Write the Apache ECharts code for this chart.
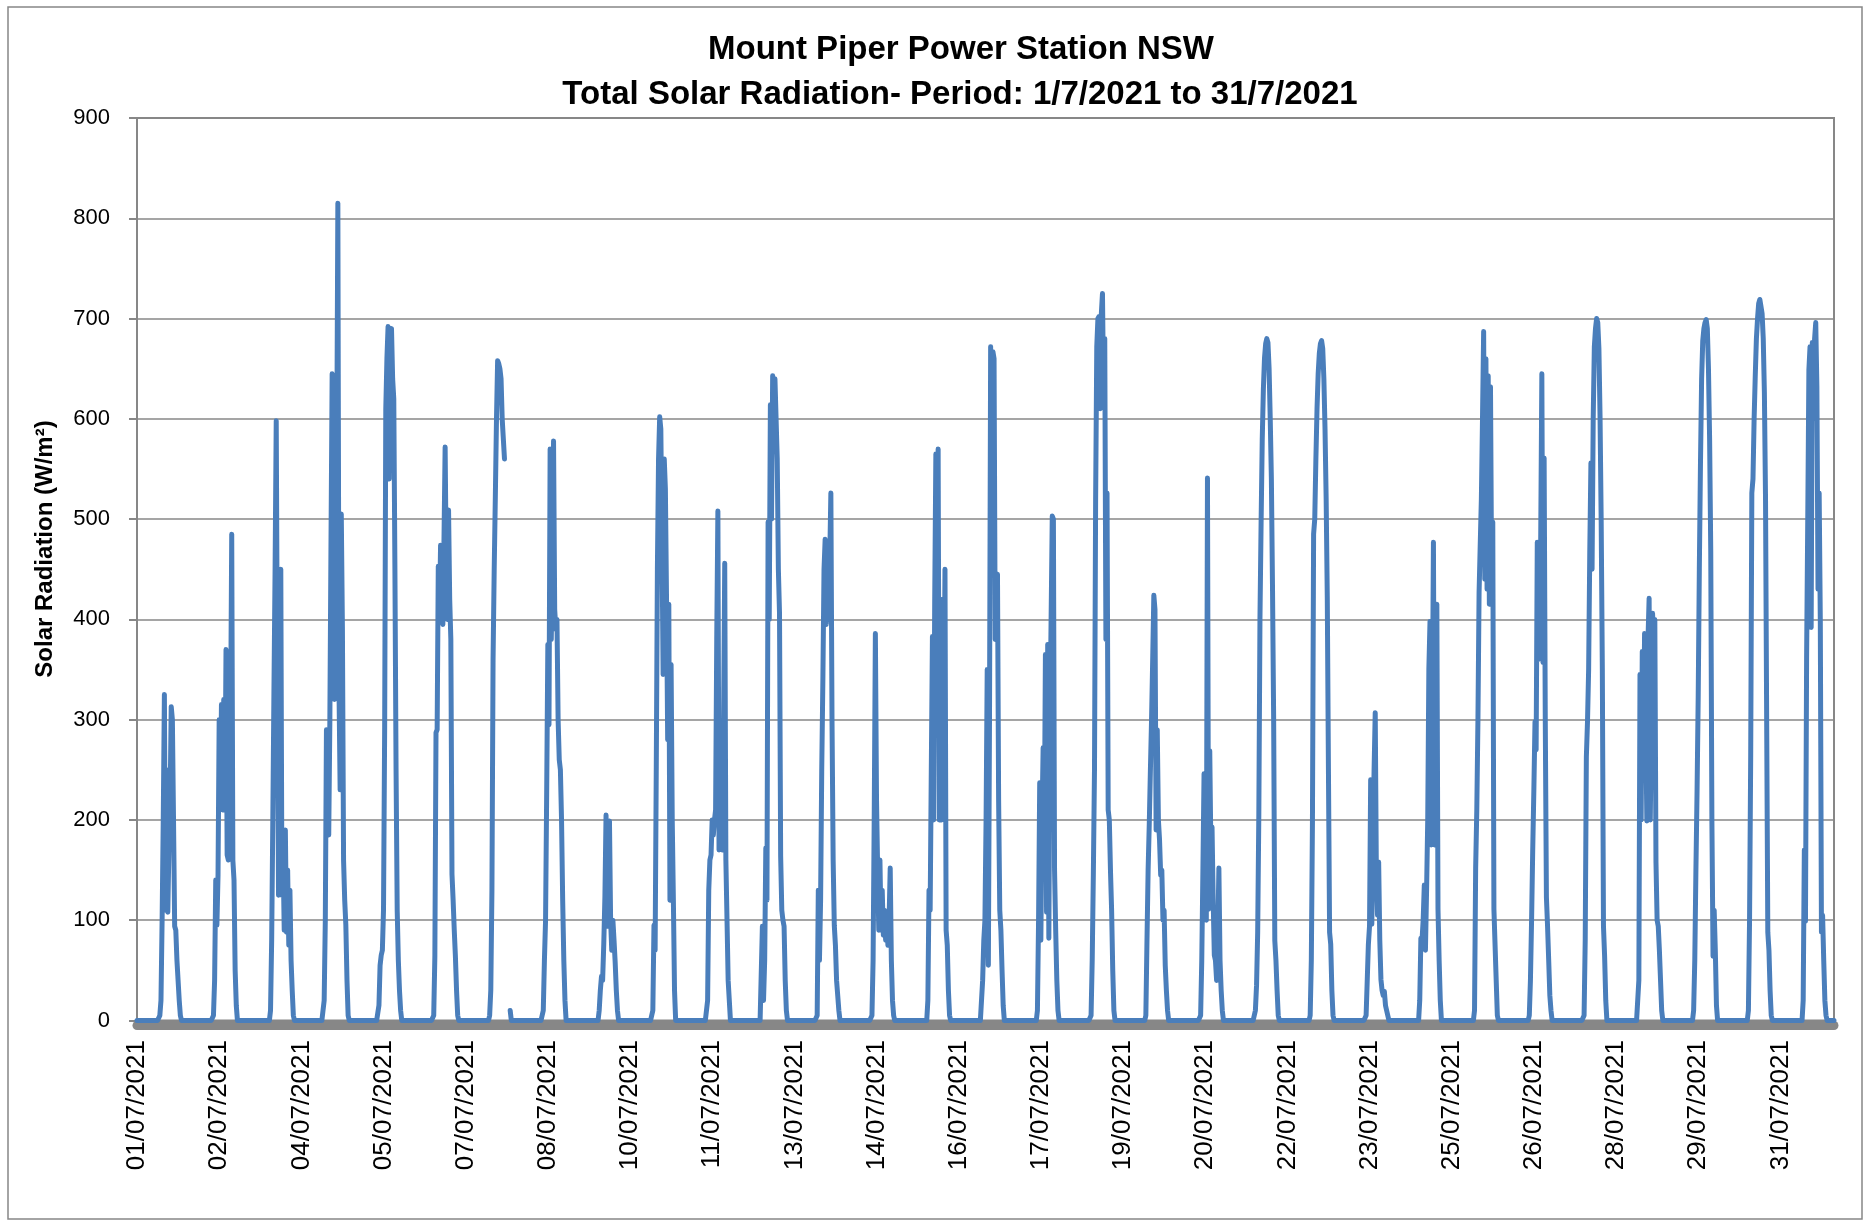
<!DOCTYPE html>
<html>
<head>
<meta charset="utf-8">
<title>Mount Piper Power Station NSW - Total Solar Radiation</title>
<script src="https://cdn.jsdelivr.net/npm/echarts@6/dist/echarts.min.js"></script>
<style>
  html, body { margin: 0; padding: 0; background: #fff; }
  #chart { width: 1867px; height: 1221px; }
</style>
</head>
<body>
<div id="chart"></div>
<script>
// one entry per day of the period
const days = [
  '01/07/2021', '02/07/2021', '03/07/2021', '04/07/2021', '05/07/2021', '06/07/2021',
  '07/07/2021', '08/07/2021', '09/07/2021', '10/07/2021', '11/07/2021', '12/07/2021',
  '13/07/2021', '14/07/2021', '15/07/2021', '16/07/2021', '17/07/2021', '18/07/2021',
  '19/07/2021', '20/07/2021', '21/07/2021', '22/07/2021', '23/07/2021', '24/07/2021',
  '25/07/2021', '26/07/2021', '27/07/2021', '28/07/2021', '29/07/2021', '30/07/2021',
  '31/07/2021'
];

// half-hourly readings (W/m²); each day list starts at 09:30, night readings are 0
const slotsPerDay = 48;
const firstSlot = 19;

const day01 = [0, 5, 20, 100, 200, 325, 110, 250, 108, 175, 220, 313, 300, 200, 94, 90, 60, 40, 20, 5, 0, 0, 0, 0];
const day02 = [5, 40, 140, 95, 145, 300, 215, 315, 210, 320, 210, 370, 165, 160, 200, 300, 485, 160, 140, 50, 15, 0, 0, 0];
const day03 = [0, 0, 10, 80, 200, 330, 450, 598, 350, 125, 200, 450, 125, 165, 90, 190, 88, 150, 75, 130, 60, 30, 5, 0];
const day04 = [0, 20, 100, 290, 290, 185, 300, 480, 645, 640, 320, 610, 560, 815, 330, 230, 505, 390, 160, 120, 95, 40, 5, 0];
const day05 = [0, 15, 55, 65, 70, 110, 290, 610, 660, 692, 540, 685, 690, 640, 620, 450, 250, 110, 60, 30, 10, 0, 0, 0];
const day06 = [0, 5, 64, 287, 290, 453, 400, 474, 420, 395, 480, 572, 450, 400, 509, 420, 380, 146, 120, 90, 64, 30, 5, 0];
const day07 = [0, 0, 5, 30, 129, 360, 450, 523, 600, 658, 655, 650, 640, 600, 580, 560, null, null, null, null, 10, 0, 0, 0];
const day08 = [0, 10, 60, 100, 230, 375, 295, 570, 380, 450, 578, 410, 390, 400, 300, 260, 250, 200, 120, 60, 20, 0, 0, 0];
const day09 = [0, 0, 10, 30, 44, 40, 76, 123, 205, 94, 150, 199, 100, 70, 100, 80, 58, 30, 10, 0, 0, 0, 0, 0];
const day10 = [0, 10, 95, 70, 250, 450, 560, 602, 590, 480, 345, 560, 530, 420, 280, 415, 120, 355, 200, 120, 30, 0, 0, 0];
const day11 = [0, 20, 130, 160, 165, 200, 185, 200, 210, 380, 508, 170, 200, 175, 170, 300, 456, 160, 100, 40, 20, 0, 0, 0];
const day12 = [0, 94, 20, 60, 172, 120, 497, 400, 614, 500, 643, 620, 640, 640, 560, 450, 406, 164, 110, 100, 94, 40, 10, 0];
const day13 = [0, 5, 130, 60, 120, 250, 340, 450, 480, 395, 420, 400, 460, 526, 300, 160, 95, 75, 40, 25, 10, 0, 0, 0];
const day14 = [0, 5, 60, 205, 386, 220, 150, 90, 160, 90, 130, 85, 110, 80, 95, 75, 100, 152, 60, 20, 5, 0, 0, 0];
const day15 = [0, 0, 20, 130, 110, 250, 383, 200, 420, 565, 450, 570, 200, 260, 200, 420, 300, 450, 90, 75, 30, 5, 0, 0];
const day16 = [0, 0, 40, 80, 100, 200, 350, 55, 300, 672, 500, 667, 660, 380, 400, 445, 220, 110, 90, 50, 15, 0, 0, 0];
const day17 = [0, 0, 10, 100, 237, 80, 200, 272, 180, 365, 108, 375, 82, 300, 300, 503, 500, 150, 90, 40, 10, 0, 0, 0];
const day18 = [0, 5, 60, 146, 250, 520, 672, 700, 702, 610, 705, 725, 620, 680, 380, 526, 210, 200, 150, 110, 50, 10, 0, 0];
const day19 = [0, 5, 80, 150, 196, 250, 300, 360, 424, 410, 190, 290, 200, 180, 145, 150, 100, 110, 55, 30, 10, 0, 0, 0];
const day20 = [0, 5, 60, 150, 246, 190, 100, 541, 111, 269, 170, 193, 120, 65, 60, 40, 80, 152, 60, 30, 10, 0, 0, 0];
const day21 = [0, 10, 35, 88, 205, 400, 497, 580, 630, 661, 675, 680, 676, 650, 600, 540, 430, 300, 80, 60, 30, 5, 0, 0];
const day22 = [0, 5, 60, 200, 485, 500, 560, 610, 645, 665, 675, 678, 670, 640, 590, 520, 420, 250, 88, 76, 30, 5, 0, 0];
const day23 = [0, 0, 5, 40, 76, 94, 240, 96, 180, 250, 307, 146, 105, 158, 80, 41, 30, 25, 29, 15, 10, 5, 0, 0];
const day24 = [0, 20, 82, 80, 100, 135, 70, 130, 200, 351, 398, 175, 300, 477, 175, 300, 415, 111, 60, 20, 0, 0, 0, 0];
const day25 = [0, 10, 152, 210, 300, 427, 474, 520, 600, 687, 440, 660, 430, 643, 415, 632, 440, 497, 111, 110, 40, 5, 0, 0];
const day26 = [0, 5, 40, 100, 170, 230, 298, 270, 477, 360, 420, 480, 645, 357, 561, 300, 123, 94, 60, 25, 10, 0, 0, 0];
const day27 = [0, 5, 80, 263, 298, 350, 468, 556, 450, 600, 672, 690, 700, 696, 670, 602, 497, 350, 94, 64, 20, 0, 0, 0];
const day28 = [0, 40, 345, 200, 368, 250, 386, 300, 199, 380, 421, 200, 300, 406, 380, 400, 158, 100, 94, 70, 40, 10, 0, 0];
const day29 = [0, 10, 60, 150, 228, 322, 450, 556, 640, 678, 690, 696, 699, 690, 650, 580, 468, 200, 64, 110, 70, 15, 0, 0];
const day30 = [0, 10, 100, 263, 526, 540, 600, 643, 680, 700, 715, 719, 712, 705, 680, 626, 520, 300, 88, 70, 30, 5, 0, 0];
const day31 = [0, 20, 170, 99, 363, 500, 649, 672, 392, 676, 600, 680, 696, 632, 430, 526, 398, 88, 105, 60, 20, 5, 0, 0];

const yMin = 0;
const yMax = 900;
const yStep = 100;

const dayValues = [
  day01, day02, day03, day04, day05, day06, day07, day08, day09, day10, day11,
  day12, day13, day14, day15, day16, day17, day18, day19, day20, day21, day22,
  day23, day24, day25, day26, day27, day28, day29, day30, day31
];

// build the half-hour category list and the matching series
const categories = [];
const radiation = [];
days.forEach((day, d) => {
  const values = dayValues[d];
  for (let s = 0; s < slotsPerDay; s++) {
    const hh = String(Math.floor(s / 2)).padStart(2, '0');
    const mm = s % 2 ? '30' : '00';
    categories.push(day + ' ' + hh + ':' + mm);
    const k = s - firstSlot;
    radiation.push(k >= 0 && k < values.length ? values[k] : 0);
  }
});

const chart = echarts.init(document.getElementById('chart'));
const grey = '#878787';
const font = 'Liberation Sans, Arial, sans-serif';

chart.setOption({
  animation: false,
  backgroundColor: '#fff',
  grid: {
    left: 137,
    right: 33,
    top: 118,
    bottom: 200.5,
    show: true,
    borderColor: grey,
    borderWidth: 2
  },
  xAxis: {
    type: 'category',
    data: categories,
    boundaryGap: false,
    offset: 4.5,
    axisLine: { onZero: false, lineStyle: { color: grey, width: 9 } },
    axisTick: { show: false },
    axisLabel: {
      // a label every day and a half
      interval: slotsPerDay * 1.5 - 1,
      rotate: 90,
      margin: 15,
      color: '#000',
      fontFamily: font,
      fontSize: 26,
      formatter: (v) => v.slice(0, 10)
    },
    splitLine: { show: false }
  },
  yAxis: {
    type: 'value',
    min: yMin,
    max: yMax,
    interval: yStep,
    axisLine: { show: true, lineStyle: { color: grey, width: 2 } },
    axisTick: { show: true, length: 8, lineStyle: { color: grey, width: 2 } },
    axisLabel: {
      margin: 27,
      color: '#000',
      fontFamily: font,
      fontSize: 22
    },
    splitLine: { lineStyle: { color: grey, width: 1.5 } }
  },
  series: [
    {
      name: 'Total Solar Radiation',
      type: 'line',
      data: radiation,
      showSymbol: false,
      connectNulls: false,
      sampling: null,
      lineStyle: { color: '#4a7ebb', width: 5, join: 'round', cap: 'round' },
      itemStyle: { color: '#4a7ebb' }
    }
  ],
  graphic: [
    {
      type: 'rect',
      shape: { x: 8, y: 7, width: 1854, height: 1212 },
      style: { fill: 'none', stroke: grey, lineWidth: 1.5 },
      silent: true
    },
    {
      type: 'text',
      x: 961,
      y: 50,
      style: {
        text: 'Mount Piper Power Station NSW',
        fill: '#000',
        font: 'bold 33px ' + font,
        textAlign: 'center',
        textVerticalAlign: 'middle'
      }
    },
    {
      type: 'text',
      x: 960,
      y: 95,
      style: {
        text: 'Total Solar Radiation- Period: 1/7/2021 to 31/7/2021',
        fill: '#000',
        font: 'bold 33px ' + font,
        textAlign: 'center',
        textVerticalAlign: 'middle'
      }
    },
    {
      type: 'text',
      x: 45,
      y: 549,
      rotation: Math.PI / 2,
      style: {
        text: 'Solar Radiation (W/m²)',
        fill: '#000',
        font: 'bold 24px ' + font,
        textAlign: 'center',
        textVerticalAlign: 'middle'
      }
    }
  ]
});
</script>
</body>
</html>
